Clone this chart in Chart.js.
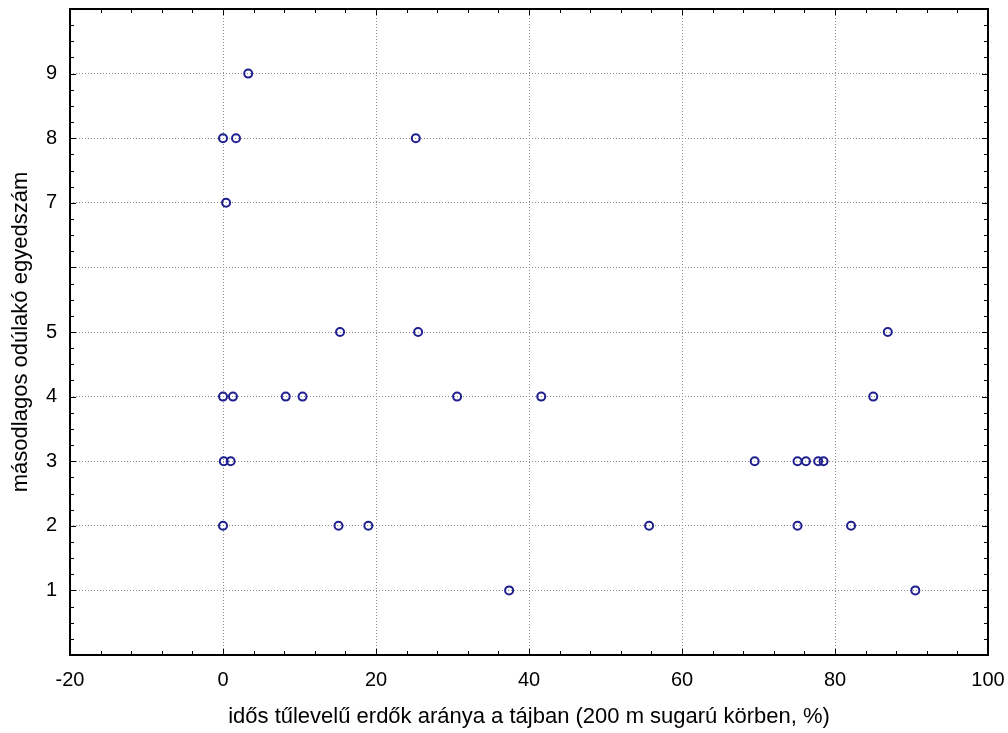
<!DOCTYPE html>
<html>
<head>
<meta charset="utf-8">
<script src="https://cdn.jsdelivr.net/npm/chart.js@4.4.1/dist/chart.umd.min.js"></script>
<style>
  html, body { margin: 0; padding: 0; background: #fff; }
  #wrap { width: 1008px; height: 733px; }
</style>
</head>
<body>
<div id="wrap"><canvas id="myChart" width="1008" height="733"></canvas></div>
<script>
// idős tűlevelű erdők aránya (%) és a másodlagos odúlakók száma
var forestShare = [3.3, 0, 1.7, 25.2, 0.4, 15.3, 25.5, 86.9,
                   0, 1.3, 8.2, 10.4, 30.6, 41.6, 85.0,
                   0.1, 1.0, 69.5, 75.1, 76.2, 77.8, 78.5,
                   0, 15.1, 19.0, 55.7, 75.1, 82.1,
                   37.4, 90.5];
var nesterCount = [9, 8, 8, 8, 7, 5, 5, 5,
                   4, 4, 4, 4, 4, 4, 4,
                   3, 3, 3, 3, 3, 3, 3,
                   2, 2, 2, 2, 2, 2,
                   1, 1];
var yTickLabels = ['', '1', '2', '3', '4', '5', '', '7', '8', '9', ''];
var xTitle = 'idős tűlevelű erdők aránya a tájban (200 m sugarú körben, %)';
var yTitle = 'másodlagos odúlakó egyedszám';

var pontok = forestShare.map(function(x, i) { return { x: x, y: nesterCount[i] }; });

var fonal = 'Liberation Sans, Arial, sans-serif';

// keret es befele allo osztasok (Statistica stilus)
var keretPlugin = {
    id: 'keret',
    afterDatasetsDraw: function(chart) {
        var ctx = chart.ctx;
        var a = chart.chartArea;
        var sx = chart.scales.x, sy = chart.scales.y;
        ctx.save();
        ctx.strokeStyle = '#000';
        ctx.lineWidth = 1;
        var v, px;
        for (v = -20; v <= 100; v += 4) {
            px = Math.round(sx.getPixelForValue(v)) + 0.5;
            var hosszX = (v % 20 === 0) ? 6 : 4;
            ctx.beginPath();
            ctx.moveTo(px, a.bottom); ctx.lineTo(px, a.bottom - hosszX);
            ctx.moveTo(px, a.top); ctx.lineTo(px, a.top + hosszX);
            ctx.stroke();
        }
        for (v = 0; v <= 10; v += 0.25) {
            px = Math.round(sy.getPixelForValue(v)) + 0.5;
            var hosszY = (v % 1 === 0) ? 6 : 4;
            ctx.beginPath();
            ctx.moveTo(a.left, px); ctx.lineTo(a.left + hosszY, px);
            ctx.moveTo(a.right, px); ctx.lineTo(a.right - hosszY, px);
            ctx.stroke();
        }
        ctx.lineWidth = 2;
        ctx.strokeRect(a.left, a.top, a.right - a.left, a.bottom - a.top);
        ctx.restore();
    }
};

var ctx = document.getElementById('myChart').getContext('2d');
var chart = new Chart(ctx, {
    type: 'scatter',
    data: {
        datasets: [{
            data: pontok,
            pointStyle: 'circle',
            pointRadius: 4,
            pointHoverRadius: 4,
            borderWidth: 2,
            borderColor: '#1f1f90',
            backgroundColor: 'transparent'
        }]
    },
    options: {
        responsive: false,
        animation: false,
        events: [],
        layout: { padding: { top: 9, right: 20, left: 0, bottom: 0 } },
        plugins: { legend: { display: false }, tooltip: { enabled: false } },
        scales: {
            x: {
                type: 'linear',
                min: -20, max: 100,
                afterFit: function(scale) {
                    scale.height = 78;
                    scale.paddingLeft = 0;
                    scale.paddingRight = 0;
                },
                border: { display: false, dash: [1, 2] },
                grid: { color: '#8c8c8c', lineWidth: 1, drawTicks: false },
                ticks: {
                    stepSize: 20, padding: 13, color: '#000',
                    font: { family: fonal, size: 20 }
                },
                title: {
                    display: true, text: xTitle, color: '#000',
                    font: { family: fonal, size: 22 },
                    padding: { top: 4, bottom: 3 }
                }
            },
            y: {
                type: 'linear',
                min: 0, max: 10,
                afterFit: function(scale) {
                    scale.width = 70;
                    scale.paddingTop = 0;
                    scale.paddingBottom = 0;
                },
                border: { display: false, dash: [1, 2] },
                grid: { color: '#8c8c8c', lineWidth: 1, drawTicks: false },
                ticks: {
                    stepSize: 1, padding: 13, color: '#000',
                    font: { family: fonal, size: 20 },
                    callback: function(value) { return yTickLabels[value]; }
                },
                title: {
                    display: true, text: yTitle, color: '#000',
                    font: { family: fonal, size: 22 },
                    padding: { top: 8, bottom: 0 }
                }
            }
        }
    },
    plugins: [keretPlugin]
});
</script>
</body>
</html>
